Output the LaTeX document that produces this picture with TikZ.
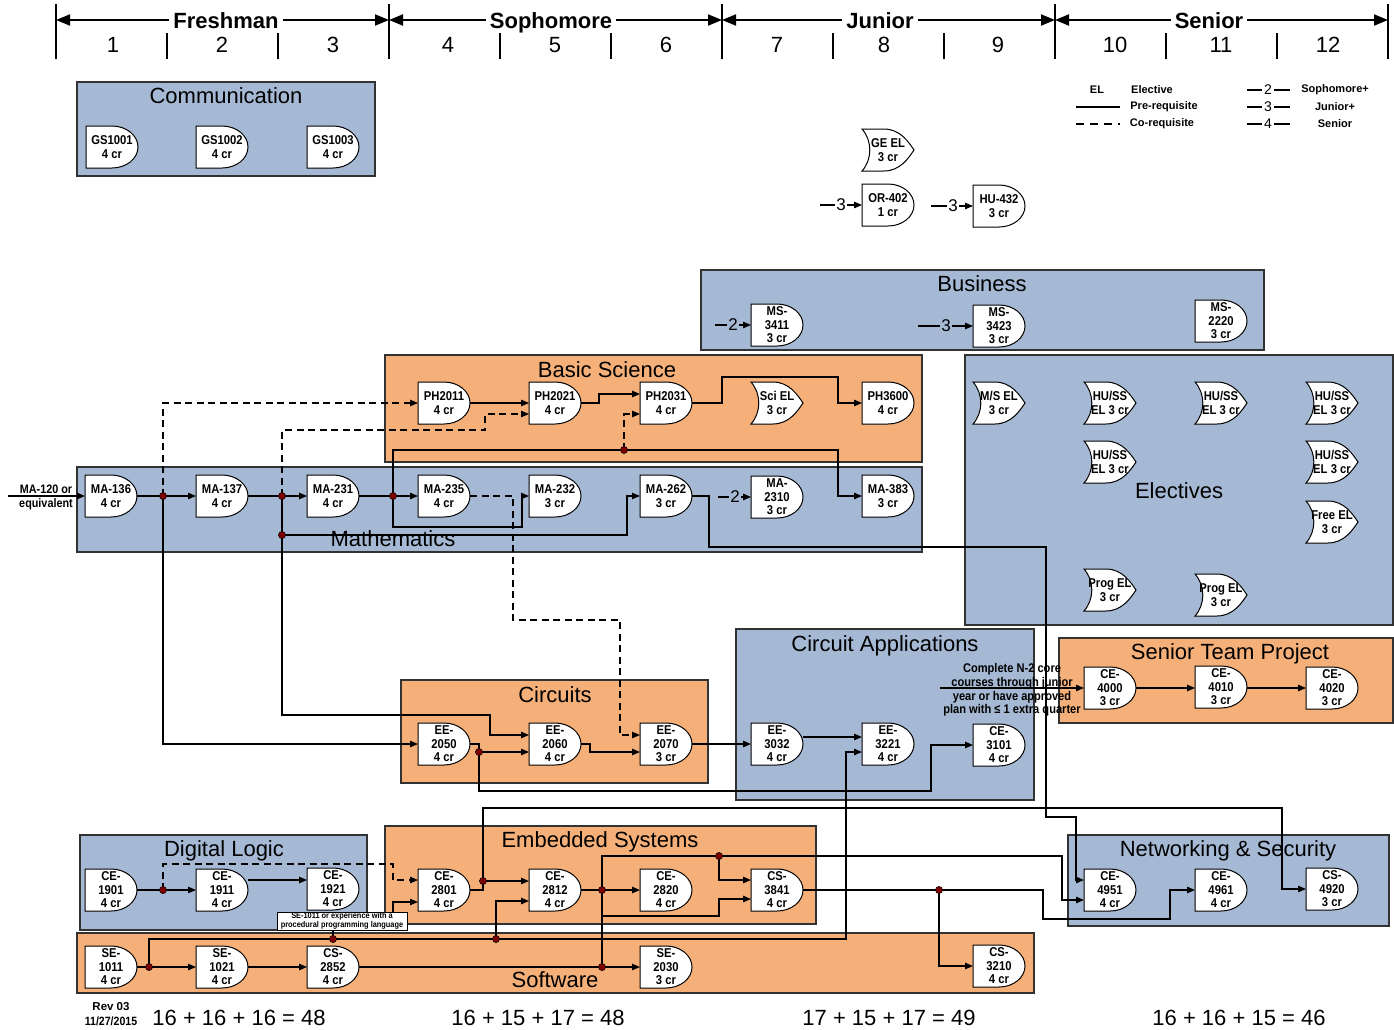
\documentclass[tikz,border=0pt]{standalone}
\usepackage{fontspec}
\setmainfont{Liberation Sans}
\newfontfamily\narrowfont[FakeStretch=0.88]{Liberation Sans}
\usetikzlibrary{arrows.meta}
\makeatletter
\pgfdeclareshape{dcourse}{%
  \inheritsavedanchors[from=rectangle]%
  \inheritanchorborder[from=rectangle]%
  \inheritanchor[from=rectangle]{center}%
  \inheritanchor[from=rectangle]{north}%
  \inheritanchor[from=rectangle]{south}%
  \inheritanchor[from=rectangle]{east}%
  \inheritanchor[from=rectangle]{west}%
  \inheritanchor[from=rectangle]{north east}%
  \inheritanchor[from=rectangle]{north west}%
  \inheritanchor[from=rectangle]{south east}%
  \inheritanchor[from=rectangle]{south west}%
  \backgroundpath{%
    \southwest \edef\rk@xa{\the\pgf@x}\edef\rk@ya{\the\pgf@y}%
    \northeast \edef\rk@xb{\the\pgf@x}\edef\rk@yb{\the\pgf@y}%
    \edef\rk@xm{\the\dimexpr(\rk@xa+\rk@xb)/2\relax}%
    \edef\rk@ym{\the\dimexpr(\rk@ya+\rk@yb)/2\relax}%
    \edef\rk@kx{\the\dimexpr\rk@xm+(\rk@xb-\rk@xm)*552/1000\relax}%
    \edef\rk@kyu{\the\dimexpr\rk@ym+(\rk@yb-\rk@ym)*552/1000\relax}%
    \edef\rk@kyd{\the\dimexpr\rk@ym-(\rk@yb-\rk@ym)*552/1000\relax}%
    \pgfpathmoveto{\pgfqpoint{\rk@xa}{\rk@ya}}%
    \pgfpathlineto{\pgfqpoint{\rk@xa}{\rk@yb}}%
    \pgfpathlineto{\pgfqpoint{\rk@xm}{\rk@yb}}%
    \pgfpathcurveto{\pgfqpoint{\rk@kx}{\rk@yb}}{\pgfqpoint{\rk@xb}{\rk@kyu}}{\pgfqpoint{\rk@xb}{\rk@ym}}%
    \pgfpathcurveto{\pgfqpoint{\rk@xb}{\rk@kyd}}{\pgfqpoint{\rk@kx}{\rk@ya}}{\pgfqpoint{\rk@xm}{\rk@ya}}%
    \pgfpathclose
  }%
}
\pgfdeclareshape{ecourse}{%
  \inheritsavedanchors[from=rectangle]%
  \inheritanchorborder[from=rectangle]%
  \inheritanchor[from=rectangle]{center}%
  \inheritanchor[from=rectangle]{north}%
  \inheritanchor[from=rectangle]{south}%
  \inheritanchor[from=rectangle]{east}%
  \inheritanchor[from=rectangle]{west}%
  \inheritanchor[from=rectangle]{north east}%
  \inheritanchor[from=rectangle]{north west}%
  \inheritanchor[from=rectangle]{south east}%
  \inheritanchor[from=rectangle]{south west}%
  \backgroundpath{%
    \southwest \edef\rk@xa{\the\pgf@x}\edef\rk@ya{\the\pgf@y}%
    \northeast \edef\rk@xb{\the\pgf@x}\edef\rk@yb{\the\pgf@y}%
    \edef\rk@w{\the\dimexpr\rk@xb-\rk@xa\relax}%
    \edef\rk@h{\the\dimexpr\rk@yb-\rk@ya\relax}%
    \edef\rk@ym{\the\dimexpr(\rk@ya+\rk@yb)/2\relax}%
    \edef\rk@xl{\the\dimexpr\rk@xa+\rk@w*20/100\relax}%
    \edef\rk@xs{\the\dimexpr\rk@xa+\rk@w*42/100\relax}%
    \edef\rk@xc{\the\dimexpr\rk@xa+\rk@w*74/100\relax}%
    \edef\rk@xd{\the\dimexpr\rk@xa+\rk@w*90/100\relax}%
    \edef\rk@yu{\the\dimexpr\rk@ym+\rk@h*18/100\relax}%
    \edef\rk@yd{\the\dimexpr\rk@ym-\rk@h*18/100\relax}%
    \edef\rk@yq{\the\dimexpr\rk@yb-\rk@h*28/100\relax}%
    \edef\rk@yr{\the\dimexpr\rk@ya+\rk@h*28/100\relax}%
    \pgfpathmoveto{\pgfqpoint{\rk@xa}{\rk@yb}}%
    \pgfpathlineto{\pgfqpoint{\rk@xs}{\rk@yb}}%
    \pgfpathcurveto{\pgfqpoint{\rk@xc}{\rk@yb}}{\pgfqpoint{\rk@xd}{\rk@yu}}{\pgfqpoint{\rk@xb}{\rk@ym}}%
    \pgfpathcurveto{\pgfqpoint{\rk@xd}{\rk@yd}}{\pgfqpoint{\rk@xc}{\rk@ya}}{\pgfqpoint{\rk@xs}{\rk@ya}}%
    \pgfpathlineto{\pgfqpoint{\rk@xa}{\rk@ya}}%
    \pgfpathcurveto{\pgfqpoint{\rk@xl}{\rk@yr}}{\pgfqpoint{\rk@xl}{\rk@yq}}{\pgfqpoint{\rk@xa}{\rk@yb}}%
    \pgfpathclose
  }%
}
\makeatother
\newcommand\rkcfont{\narrowfont\bfseries\fontsize{12.8}{13.5}\selectfont}
\definecolor{boxblue}{RGB}{166,185,212}
\definecolor{boxorange}{RGB}{245,176,122}
\definecolor{boxline}{RGB}{50,50,50}
\definecolor{dotred}{RGB}{125,0,0}
\tikzset{
  course/.style={shape=dcourse, draw=black, fill=white, line width=1pt, minimum width=52pt, minimum height=42pt, inner sep=0pt, outer sep=0pt, align=center, font=\rkcfont},
  elect/.style={course, shape=ecourse},
  bluebox/.style={draw=boxline, fill=boxblue, line width=1.4pt},
  orangebox/.style={draw=boxline, fill=boxorange, line width=1.4pt},
  grptitle/.style={font=\fontsize{22}{24}\selectfont, inner sep=0pt, anchor=base},
  yearlbl/.style={font=\bfseries\fontsize{22}{24}\selectfont, text height=16pt, text depth=0pt, inner sep=4pt},
  qnum/.style={font=\fontsize{22}{24}\selectfont, text height=16pt, text depth=0pt, inner sep=0pt},
  sumlbl/.style={font=\fontsize{22}{24}\selectfont, text height=16pt, text depth=0pt, inner sep=0pt},
  tarr/.style={line width=2pt, -{Triangle[length=14pt,width=11pt]}},
  conn/.style={line width=1.1pt, draw=black},
  arr/.style={conn, -{Triangle[length=8pt,width=6.5pt]}},
  dsh/.style={dash pattern=on 7pt off 4.5pt},
  jdot/.style={fill=dotred, draw=black, line width=0.5pt},
  leg/.style={font=\bfseries\fontsize{11}{12}\selectfont, inner sep=0pt},
  lvl/.style={font=\fontsize{17}{18}\selectfont, inner sep=1.5pt},
  legd/.style={font=\fontsize{14}{15}\selectfont, inner sep=1.5pt},
  smalltxt/.style={font=\narrowfont\bfseries\fontsize{11}{13.5}\selectfont, align=center, inner sep=0pt}
}
\begin{document}
\begin{tikzpicture}[x=1pt,y=-1pt]
\useasboundingbox (0,0) rectangle (1394,1029);
\fill[white] (0,0) rectangle (1394,1029);

% ---------------- timeline
\foreach \x in {56,389,722,1055,1388}{\draw[line width=2pt] (\x,4) -- (\x,59);}
\foreach \x in {167,278,500,611,833,944,1166,1277}{\draw[line width=2pt] (\x,33) -- (\x,59);}
\coordinate (tk0) at (56,20);
\coordinate (tk1) at (389,20);
\coordinate (tk2) at (722,20);
\coordinate (tk3) at (1055,20);
\coordinate (tk4) at (1388,20);
\node[yearlbl] (yfr) at (226,20) {Freshman};
\node[yearlbl] (yso) at (551,20) {Sophomore};
\node[yearlbl] (yju) at (880,20) {Junior};
\node[yearlbl] (yse) at (1209,20) {Senior};
\draw[tarr] (yfr.west) -- (tk0);
\draw[tarr] (yfr.east) -- (tk1);
\draw[tarr] (yso.west) -- (tk1);
\draw[tarr] (yso.east) -- (tk2);
\draw[tarr] (yju.west) -- (tk2);
\draw[tarr] (yju.east) -- (tk3);
\draw[tarr] (yse.west) -- (tk3);
\draw[tarr] (yse.east) -- (tk4);
\foreach \n/\x in {1/113,2/222,3/333,4/448,5/555,6/666,7/777,8/884,9/998,10/1115,11/1221,12/1328}{\node[qnum] (q\n) at (\x,44) {\n};}

% ---------------- legend
\node[leg] (legel) at (1097,90) {EL};
\node[leg] (legelec) at (1152,90) {Elective};
\coordinate (lgp1) at (1076,107);
\coordinate (lgp2) at (1120,107);
\draw[conn] (lgp1) -- (lgp2);
\node[leg] (legpre) at (1164,107) {Pre-requisite};
\coordinate (lgc1) at (1076,124);
\coordinate (lgc2) at (1120,124);
\draw[conn,dash pattern=on 8pt off 6pt] (lgc1) -- (lgc2);
\node[leg] (legco) at (1162,124) {Co-requisite};
\foreach \d/\y/\t in {2/90/Sophomore+,3/107/Junior+,4/124/Senior}{
  \node[legd] (lgd\d) at (1268,\y) {\d};
  \coordinate (lgl\d) at (1247,\y);
  \coordinate (lgr\d) at (1290,\y);
  \draw[conn] (lgl\d) -- (lgd\d);
  \draw[conn] (lgd\d) -- (lgr\d);
  \node[leg] (lgt\d) at (1335,\y) {\t};
}

% ---------------- group boxes
\draw[bluebox] (77,82) rectangle (375,176);
\draw[bluebox] (701,270) rectangle (1264,350);
\draw[orangebox] (385,355) rectangle (922,462);
\draw[bluebox] (965,355) rectangle (1393,625);
\draw[bluebox] (77,467) rectangle (922,552);
\draw[bluebox] (736,629) rectangle (1034,800);
\draw[orangebox] (1059,638) rectangle (1393,723);
\draw[orangebox] (401,680) rectangle (708,783);
\draw[bluebox] (80,835) rectangle (367,930);
\draw[orangebox] (385,826) rectangle (816,924);
\draw[bluebox] (1068,835) rectangle (1389,926);
\draw[orangebox] (77,933) rectangle (1034,993);

\node[grptitle] (tcomm) at (226,103) {Communication};
\node[grptitle] (tbus) at (982,291) {Business};
\node[grptitle] (tbas) at (607,377) {Basic Science};
\node[grptitle] (telec) at (1179,498) {Electives};
\node[grptitle] (tmath) at (393,546) {Mathematics};
\node[grptitle] (tcapp) at (885,651) {Circuit Applications};
\node[grptitle] (tstp) at (1230,659) {Senior Team Project};
\node[grptitle] (tcirc) at (555,702) {Circuits};
\node[grptitle] (tdig) at (224,856) {Digital Logic};
\node[grptitle] (temb) at (600,847) {Embedded Systems};
\node[grptitle] (tnet) at (1228,856) {Networking \& Security};
\node[grptitle] (tsoft) at (555,987) {Software};

% ---------------- courses
\node[course] (gs1001) at (112,147) {GS1001\\4 cr};
\node[course] (gs1002) at (222,147) {GS1002\\4 cr};
\node[course] (gs1003) at (333,147) {GS1003\\4 cr};

\node[elect] (geel) at (888,150) {GE EL\\3 cr};
\node[course] (or402) at (888,205) {OR-402\\1 cr};
\node[course] (hu432) at (999,206) {HU-432\\3 cr};

\node[course] (ms3411) at (777,325) {MS-\\3411\\3 cr};
\node[course] (ms3423) at (999,326) {MS-\\3423\\3 cr};
\node[course] (ms2220) at (1221,321) {MS-\\2220\\3 cr};

\node[course] (ph2011) at (444,403) {PH2011\\4 cr};
\node[course] (ph2021) at (555,403) {PH2021\\4 cr};
\node[course] (ph2031) at (666,403) {PH2031\\4 cr};
\node[elect] (scel) at (777,403) {Sci EL\\3 cr};
\node[course] (ph3600) at (888,403) {PH3600\\4 cr};

\node[elect] (msel) at (999,403) {M/S EL\\3 cr};
\node[elect] (hu1) at (1110,403) {HU/SS\\EL 3 cr};
\node[elect] (hu2) at (1221,403) {HU/SS\\EL 3 cr};
\node[elect] (hu3) at (1332,403) {HU/SS\\EL 3 cr};
\node[elect] (hu4) at (1110,462) {HU/SS\\EL 3 cr};
\node[elect] (hu5) at (1332,462) {HU/SS\\EL 3 cr};
\node[elect] (freeel) at (1332,522) {Free EL\\3 cr};
\node[elect] (prog1) at (1110,590) {Prog EL\\3 cr};
\node[elect] (prog2) at (1221,595) {Prog EL\\3 cr};

\node[course] (ma136) at (111,496) {MA-136\\4 cr};
\node[course] (ma137) at (222,496) {MA-137\\4 cr};
\node[course] (ma231) at (333,496) {MA-231\\4 cr};
\node[course] (ma235) at (444,496) {MA-235\\4 cr};
\node[course] (ma232) at (555,496) {MA-232\\3 cr};
\node[course] (ma262) at (666,496) {MA-262\\3 cr};
\node[course] (ma2310) at (777,497) {MA-\\2310\\3 cr};
\node[course] (ma383) at (888,496) {MA-383\\3 cr};

\node[course] (ee2050) at (444,744) {EE-\\2050\\4 cr};
\node[course] (ee2060) at (555,744) {EE-\\2060\\4 cr};
\node[course] (ee2070) at (666,744) {EE-\\2070\\3 cr};
\node[course] (ee3032) at (777,744) {EE-\\3032\\4 cr};
\node[course] (ee3221) at (888,744) {EE-\\3221\\4 cr};
\node[course] (ce3101) at (999,745) {CE-\\3101\\4 cr};

\node[course] (ce4000) at (1110,688) {CE-\\4000\\3 cr};
\node[course] (ce4010) at (1221,687) {CE-\\4010\\3 cr};
\node[course] (ce4020) at (1332,688) {CE-\\4020\\3 cr};

\node[course] (ce1901) at (111,890) {CE-\\1901\\4 cr};
\node[course] (ce1911) at (222,890) {CE-\\1911\\4 cr};
\node[course] (ce1921) at (333,889) {CE-\\1921\\4 cr};

\node[course] (ce2801) at (444,890) {CE-\\2801\\4 cr};
\node[course] (ce2812) at (555,890) {CE-\\2812\\4 cr};
\node[course] (ce2820) at (666,890) {CE-\\2820\\4 cr};
\node[course] (cs3841) at (777,890) {CS-\\3841\\4 cr};

\node[course] (se1011) at (111,967) {SE-\\1011\\4 cr};
\node[course] (se1021) at (222,967) {SE-\\1021\\4 cr};
\node[course] (cs2852) at (333,967) {CS-\\2852\\4 cr};
\node[course] (se2030) at (666,967) {SE-\\2030\\3 cr};
\node[course] (cs3210) at (999,966) {CS-\\3210\\4 cr};

\node[course] (ce4951) at (1110,890) {CE-\\4951\\4 cr};
\node[course] (ce4961) at (1221,890) {CE-\\4961\\4 cr};
\node[course] (cs4920) at (1332,889) {CS-\\4920\\3 cr};

% ---------------- other texts
\node[smalltxt, font=\narrowfont\bfseries\fontsize{12.3}{14}\selectfont] (ma120lbl) at (46,497) {MA-120 or\\equivalent};
\node[smalltxt, font=\narrowfont\bfseries\fontsize{12.6}{13.6}\selectfont] (n2lbl) at (1012,690) {Complete N-2 core\\courses through junior\\year or have approved\\plan with ≤ 1 extra quarter};
\node[font=\bfseries\fontsize{11.5}{12}\selectfont, inner sep=0pt] (rev) at (111,1007) {Rev 03};
\node[font=\narrowfont\bfseries\fontsize{12}{12}\selectfont, inner sep=0pt] (revdate) at (111,1021) {11/27/2015};
\node[sumlbl] (sum1) at (239,1017) {16 + 16 + 16 = 48};
\node[sumlbl] (sum2) at (538,1017) {16 + 15 + 17 = 48};
\node[sumlbl] (sum3) at (889,1017) {17 + 15 + 17 = 49};
\node[sumlbl] (sum4) at (1239,1017) {16 + 16 + 15 = 46};

% ---------------- level-restricted inputs
\node[lvl] (lvor) at (841,205) {3};
\coordinate (lvors) at (820,205);
\draw[conn] (lvors) -- (lvor);
\draw[arr] (lvor) -- (or402);
\node[lvl] (lvhu) at (953,206) {3};
\coordinate (lvhus) at (931,206);
\draw[conn] (lvhus) -- (lvhu);
\draw[arr] (lvhu) -- (hu432);
\node[lvl] (lvms1) at (733,325) {2};
\coordinate (lvms1s) at (715,325);
\draw[conn] (lvms1s) -- (lvms1);
\draw[arr] (lvms1) -- (ms3411);
\node[lvl] (lvms2) at (946,326) {3};
\coordinate (lvms2s) at (918,326);
\draw[conn] (lvms2s) -- (lvms2);
\draw[arr] (lvms2) -- (ms3423);
\node[lvl] (lvma) at (735,497) {2};
\coordinate (lvmas) at (718,497);
\draw[conn] (lvmas) -- (lvma);
\draw[arr] (lvma) -- (ma2310);

% ---------------- junctions
\coordinate (j1) at (163,496);
\coordinate (j2) at (282,496);
\coordinate (j3) at (282,535);
\coordinate (j4) at (393,496);
\coordinate (j5) at (624,450);
\coordinate (j6) at (479,752);
\coordinate (dl1) at (163,890);
\coordinate (e1) at (483,881);
\coordinate (e2) at (602,890);
\coordinate (e3) at (719,856);
\coordinate (e4) at (602,916);
\coordinate (s1) at (149,967);
\coordinate (s2) at (333,939);
\coordinate (s3) at (496,939);
\coordinate (s4) at (602,967);
\coordinate (n1) at (939,890);
\coordinate (ma120in) at (8,496);
\coordinate (n2in) at (940,688);

% ---------------- connectors: mathematics / science
\draw[arr] (ma120in) -- (ma136);
\draw[conn] (ma136) -- (j1);
\draw[arr] (j1) -- (ma137);
\draw[arr,dsh] (j1) |- (ph2011);
\draw[arr] (j1) |- (ee2050);
\draw[conn] (ma137) -- (j2);
\draw[arr] (j2) -- (ma231);
\draw[arr,dsh] (j2) -- (282,430) -- (485,430) -- (485,414) -- (ph2021.west |- 0,414);
\draw[arr] (j2) -- (282,715) -- (490,715) -- (490,735) -- (ee2060.west |- 0,735);
\draw[arr] (j3) -- (627,535) -- (627,496) -- (ma262);
\draw[conn] (ma231) -- (j4);
\draw[arr] (j4) -- (ma235);
\draw[arr] (j4) -- (393,450) -- (838,450) -- (838,496) -- (ma383);
\draw[arr,dsh] (j5) -- (624,414) -- (ph2031.west |- 0,414);
\draw[arr] (j4) -- (393,527) -- (522,527) -- (522,496) -- (ma232);
\draw[arr,dsh] (ma235) -- (513,496) -- (513,620) -- (620,620) -- (620,735) -- (ee2070.west |- 0,735);
\draw[arr] (ma262) -- (709,496) -- (709,547) -- (1046,547) -- (1046,817) -- (1076,817) -- (1076,880) -- (ce4951.west |- 0,880);
\draw[arr] (ph2011) -- (ph2021);
\draw[arr] (ph2021) -- (599,403) -- (599,394) -- (ph2031.west |- 0,394);
\draw[arr] (ph2031) -- (722,403) -- (722,377) -- (838,377) -- (838,403) -- (ph3600);

% ---------------- circuits
\draw[conn] (ee2050) -- (479,744) -- (j6);
\draw[arr] (j6) -- (ee2060.west |- 0,752);
\draw[arr] (j6) -- (479,791) -- (931,791) -- (931,745) -- (ce3101);
\draw[arr] (ee2060) -- (590,744) -- (590,752) -- (ee2070.west |- 0,752);
\draw[arr] (ee2070) -- (ee3032);
\draw[arr] (ee3032.east |- 0,737) -- (ee3221.west |- 0,737);
\draw[arr] (s1) -- (149,939) -- (846,939) -- (846,752) -- (ee3221.west |- 0,752);

% ---------------- senior project
\draw[arr] (n2in) -- (ce4000);
\draw[arr] (ce4000) -- (ce4010.west |- 0,688);
\draw[arr] (ce4010.east |- 0,688) -- (ce4020);

% ---------------- digital logic / embedded / software
\draw[conn] (ce1901) -- (dl1);
\draw[arr] (dl1) -- (ce1911);
\draw[arr,dsh] (dl1) -- (163,864) -- (393,864) -- (393,880) -- (ce2801.west |- 0,880);
\draw[arr] (ce1911.east |- 0,880) -- (ce1921.west |- 0,880);
\draw[arr] (s2) -- (333,924) -- (393,924) -- (393,902) -- (ce2801.west |- 0,902);
\draw[conn] (ce2801) -- (483,890) -- (e1);
\draw[arr] (e1) -- (ce2812.west |- 0,881);
\draw[arr] (e1) -- (483,808) -- (1282,808) -- (1282,889) -- (cs4920);
\draw[arr] (s3) -- (496,901) -- (ce2812.west |- 0,901);
\draw[conn] (ce2812) -- (e2);
\draw[arr] (e2) -- (ce2820);
\draw[arr] (e2) -- (602,856) -- (1062,856) -- (1062,900) -- (ce4951.west |- 0,900);
\draw[arr] (e3) -- (719,880) -- (cs3841.west |- 0,880);
\draw[conn] (e2) -- (s4);
\draw[arr] (e4) -- (719,916) -- (719,899) -- (cs3841.west |- 0,899);
\draw[conn] (cs2852) -- (s4);
\draw[arr] (s4) -- (se2030);
\draw[conn] (cs3841) -- (n1);
\draw[arr] (n1) -- (1043,890) -- (1043,919) -- (1170,919) -- (1170,890) -- (ce4961);
\draw[arr] (n1) -- (939,966) -- (cs3210);
\draw[conn] (se1011) -- (s1);
\draw[arr] (s1) -- (se1021);
\draw[arr] (se1021) -- (cs2852);

% ---------------- dots
\foreach \j in {j1,j2,j3,j4,j5,j6,dl1,e1,e2,e3,s1,s2,s3,s4,n1}{\filldraw[jdot] (\j) circle (3.6pt);}

% ---------------- note box
\node[draw, fill=white, line width=0.6pt, font=\narrowfont\bfseries\fontsize{8.4}{9}\selectfont, align=center, inner sep=0.6pt, minimum width=130pt, minimum height=18pt] (lblse) at (342,921) {SE-1011 or experience with a\\procedural programming language};
\end{tikzpicture}
\end{document}
